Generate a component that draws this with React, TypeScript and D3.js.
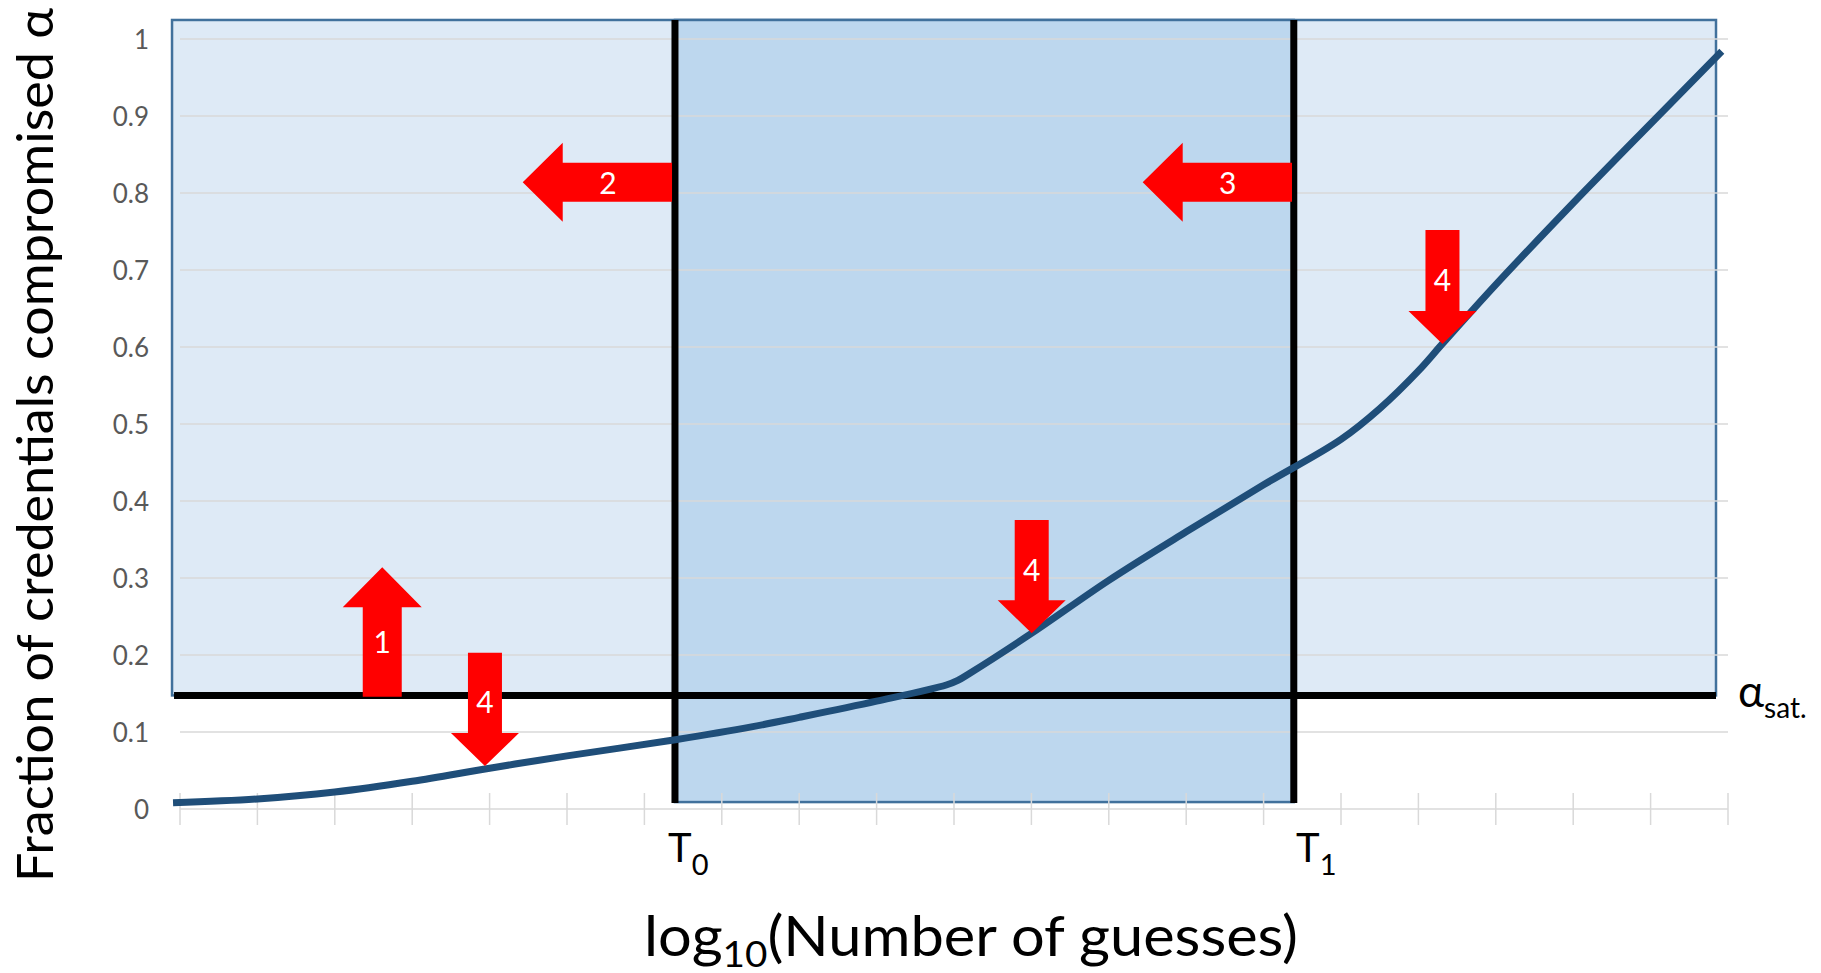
import React from "react";
import * as d3 from "d3";

// ---- data ----
const yTicks = [0, 0.1, 0.2, 0.3, 0.4, 0.5, 0.6, 0.7, 0.8, 0.9, 1];
const yTickLabels = ["0", "0.1", "0.2", "0.3", "0.4", "0.5", "0.6", "0.7", "0.8", "0.9", "1"];
const xTicks = d3.range(0, 21);
const curveX = [-0.09, 1, 2, 3, 4, 5, 6.4, 7.4, 8, 9, 9.9, 10.05, 10.2, 11, 12, 13, 14, 15, 15.5, 16, 16.3, 17, 18, 19, 19.92];
const curveY = [0.008, 0.013, 0.022, 0.036, 0.053, 0.069, 0.090, 0.107, 0.119, 0.140, 0.161, 0.167, 0.176, 0.228, 0.297, 0.36, 0.421, 0.48, 0.52, 0.569, 0.603, 0.681, 0.787, 0.89, 0.984];
const alphaSat = 0.1475;
const T0 = 6.395;
const T1 = 14.39;
const regionLeft = -0.103;
const regionRight = 19.845;
const regionTop = 1.0247;
const regionBottom = 0.009;
// arrows: label, tip (x,y) and tail (x,y) in data units
const arrowLabels = ["1", "2", "3", "4", "4", "4"];
const arrowTipX = [2.613, 4.428, 12.438, 3.94, 11.004, 16.311];
const arrowTipY = [0.3139, 0.8139, 0.8139, 0.0558, 0.2282, 0.604];
const arrowTailX = [2.613, 6.357, 14.367, 3.94, 11.004, 16.311];
const arrowTailY = [0.1458, 0.8139, 0.8139, 0.203, 0.3753, 0.752];
const arrowKind = ["big", "big", "big", "small", "small", "small"];

const W = 1821;
const H = 973;

export default function App() {
  const x = d3.scaleLinear().domain([0, 20]).range([180, 1728]);
  const y = d3.scaleLinear().domain([0, 1]).range([809, 39]);

  const pts: [number, number][] = curveX.map((v, i) => [v, curveY[i]]);
  const line = d3
    .line<[number, number]>()
    .x((d) => x(d[0]))
    .y((d) => y(d[1]))
    .curve(d3.curveCatmullRom.alpha(0.5));

  const sizes: Record<string, { s: number; h: number; l: number }> = {
    big: { s: 39, h: 79, l: 40 },
    small: { s: 34, h: 68, l: 33 },
  };

  const arrowPath = (tx: number, ty: number, bx: number, by: number, k: string) => {
    const { s, h, l } = sizes[k];
    const len = Math.hypot(tx - bx, ty - by);
    const dx = (tx - bx) / len;
    const dy = (ty - by) / len;
    const nx = -dy;
    const ny = dx;
    const hbx = tx - dx * l;
    const hby = ty - dy * l;
    const p = [
      [bx + (nx * s) / 2, by + (ny * s) / 2],
      [hbx + (nx * s) / 2, hby + (ny * s) / 2],
      [hbx + (nx * h) / 2, hby + (ny * h) / 2],
      [tx, ty],
      [hbx - (nx * h) / 2, hby - (ny * h) / 2],
      [hbx - (nx * s) / 2, hby - (ny * s) / 2],
      [bx - (nx * s) / 2, by - (ny * s) / 2],
    ];
    return "M" + p.map((q) => q.join(",")).join("L") + "Z";
  };

  const font = "Lato, 'Open Sans', sans-serif";
  const axisY = y(0);

  return (
    <svg
      width={W}
      height={H}
      style={{ position: "absolute", left: 0, top: 0, background: "#fff" }}
      fontFamily={font}
    >
      {/* light region */}
      <rect
        x={x(regionLeft)}
        y={y(regionTop)}
        width={x(regionRight) - x(regionLeft)}
        height={y(alphaSat) - y(regionTop)}
        fill="#DEEAF6"
        stroke="#41719C"
        strokeWidth={2.5}
      />
      {/* dark middle region */}
      <rect
        x={x(T0)}
        y={y(regionTop)}
        width={x(T1) - x(T0)}
        height={y(regionBottom) - y(regionTop)}
        fill="#BDD7EE"
        stroke="#41719C"
        strokeWidth={2.5}
      />
      {/* gridlines */}
      {yTicks.slice(1).map((t) => (
        <line key={t} x1={x(0)} x2={x(20)} y1={y(t)} y2={y(t)} stroke="#D9D9D9" strokeWidth={1.5} />
      ))}
      {/* x axis */}
      <line x1={x(0)} x2={x(20)} y1={axisY} y2={axisY} stroke="#D9D9D9" strokeWidth={1.5} />
      {xTicks.map((t) => (
        <line key={t} x1={x(t)} x2={x(t)} y1={axisY - 16} y2={axisY + 16} stroke="#D9D9D9" strokeWidth={1.5} />
      ))}
      {/* y tick labels */}
      {yTicks.map((t, i) => (
        <text
          key={t}
          x={149}
          y={y(t)}
          textAnchor="end"
          dominantBaseline="central"
          fontSize={26}
          fill="#595959"
        >
          {yTickLabels[i]}
        </text>
      ))}
      {/* black threshold lines */}
      <line x1={x(regionLeft) + 2} x2={x(regionRight)} y1={y(alphaSat)} y2={y(alphaSat)} stroke="#000" strokeWidth={7} />
      <line x1={x(T0)} x2={x(T0)} y1={y(regionTop)} y2={y(regionBottom) + 1} stroke="#000" strokeWidth={7} />
      <line x1={x(T1)} x2={x(T1)} y1={y(regionTop)} y2={y(regionBottom) + 1} stroke="#000" strokeWidth={7} />
      {/* curve */}
      <path d={line(pts) || ""} fill="none" stroke="#1F4E79" strokeWidth={7} />
      {/* arrows */}
      {arrowLabels.map((lab, i) => {
        const tx = x(arrowTipX[i]);
        const ty = y(arrowTipY[i]);
        const bx = x(arrowTailX[i]);
        const by = y(arrowTailY[i]);
        const lx = tx + 0.57 * (bx - tx);
        const ly = ty + 0.57 * (by - ty);
        return (
          <g key={i}>
            <path d={arrowPath(tx, ty, bx, by, arrowKind[i])} fill="#FF0000" />
            <text x={lx} y={ly} textAnchor="middle" dominantBaseline="central" fontSize={30} fill="#fff">
              {lab}
            </text>
          </g>
        );
      })}
      {/* alpha sat label */}
      <text x={1738} y={707} fontSize={44} fill="#000">
        α<tspan fontSize={28} dy={11}>sat.</tspan>
      </text>
      {/* T labels */}
      <text x={668} y={862} fontSize={40} fill="#000">
        T<tspan fontSize={29} dy={13}>0</tspan>
      </text>
      <text x={1296} y={862} fontSize={40} fill="#000">
        T<tspan fontSize={29} dy={13}>1</tspan>
      </text>
      {/* axis titles */}
      <text
        transform="translate(53,445) rotate(-90)"
        textAnchor="middle"
        fontSize={50}
        fill="#000"
        textLength={874}
        lengthAdjust="spacingAndGlyphs"
      >
        Fraction of credentials compromised α
      </text>
      <text x={644} y={956} fontSize={57} fill="#000" textLength={654} lengthAdjust="spacingAndGlyphs">
        log<tspan fontSize={37} dy={11}>10</tspan>
        <tspan dy={-11}>(Number of guesses)</tspan>
      </text>
    </svg>
  );
}
